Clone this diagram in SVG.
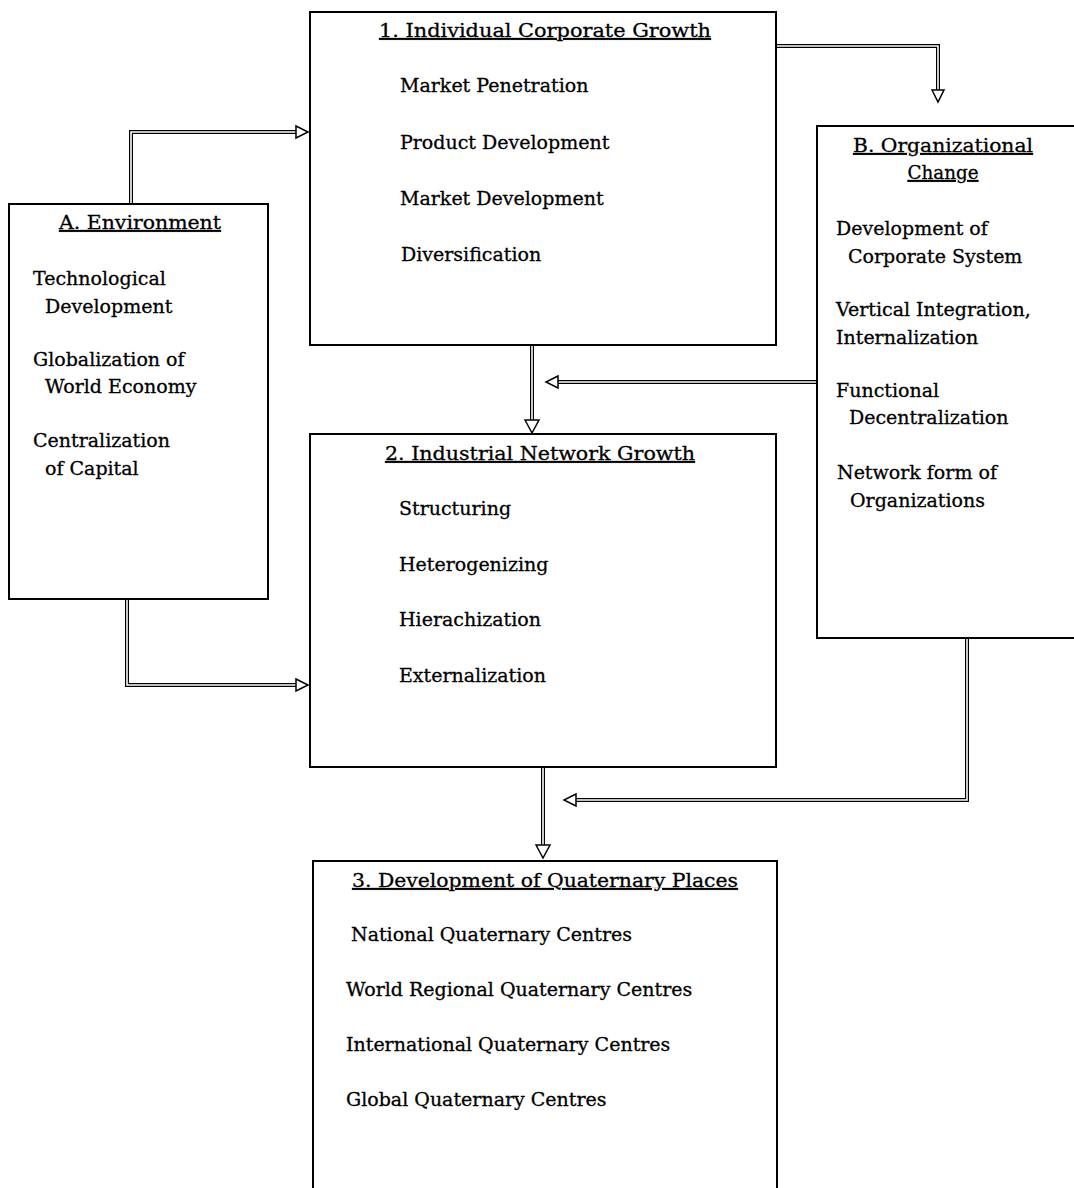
<svg xmlns="http://www.w3.org/2000/svg" width="1074" height="1188" viewBox="0 0 1074 1188">
<style>
.box{fill:none;stroke:#000;stroke-width:2}
.t{font-family:"DejaVu Serif","Liberation Serif",serif;font-size:19px;fill:#000;stroke:#000;stroke-width:0.3}
.h{font-family:"DejaVu Serif","Liberation Serif",serif;font-size:19px;fill:#000;stroke:#000;stroke-width:0.3;text-decoration:underline;text-anchor:middle}
.sh{fill:none;stroke:#000;stroke-width:4}
.sw{fill:none;stroke:#fff;stroke-width:1.6}
.hd{fill:#fff;stroke:#000;stroke-width:1.5;stroke-linejoin:miter}
</style>
<rect width="1074" height="1188" fill="#fff"/>
<g id="connectors">
<path class="sh" d="M131,204 V132 H296"/>
<path class="sw" d="M131,204 V132 H296"/>
<path class="hd" d="M296,126 L308,132 L296,138 Z"/>
<path class="sh" d="M777,46 H938 V90"/>
<path class="sw" d="M777,46 H938 V90"/>
<path class="hd" d="M932,90 L938,102 L944,90 Z"/>
<path class="sh" d="M532,345 V420"/>
<path class="sw" d="M532,345 V420"/>
<path class="hd" d="M525,420 L532,433 L539,420 Z"/>
<path class="sh" d="M816,382 H558"/>
<path class="sw" d="M816,382 H558"/>
<path class="hd" d="M558,376 L546,382 L558,388 Z"/>
<path class="sh" d="M127,599 V685 H296"/>
<path class="sw" d="M127,599 V685 H296"/>
<path class="hd" d="M296,679 L308,685 L296,691 Z"/>
<path class="sh" d="M543,767 V845"/>
<path class="sw" d="M543,767 V845"/>
<path class="hd" d="M536,845 L543,858 L550,845 Z"/>
<path class="sh" d="M967,638 V800 H576"/>
<path class="sw" d="M967,638 V800 H576"/>
<path class="hd" d="M576,794 L564,800 L576,806 Z"/>
</g>
<g id="node-1">
<rect class="box" x="310" y="12" width="466" height="333"/>
<text class="h" x="545" y="37" textLength="332" lengthAdjust="spacingAndGlyphs">1. Individual Corporate Growth</text>
<text class="t" x="400" y="92">Market Penetration</text>
<text class="t" x="400" y="149">Product Development</text>
<text class="t" x="400" y="205">Market Development</text>
<text class="t" x="401" y="261">Diversification</text>
</g>
<g id="node-A">
<rect class="box" x="9" y="204" width="259" height="395"/>
<text class="h" x="140" y="229" textLength="162" lengthAdjust="spacingAndGlyphs">A. Environment</text>
<text class="t" x="33" y="285">Technological</text>
<text class="t" x="45" y="313">Development</text>
<text class="t" x="33" y="366">Globalization of</text>
<text class="t" x="45" y="393">World Economy</text>
<text class="t" x="33" y="447">Centralization</text>
<text class="t" x="45" y="475">of Capital</text>
</g>
<g id="node-B">
<rect class="box" x="817" y="126" width="270" height="512"/>
<text class="h" x="943" y="152" textLength="180" lengthAdjust="spacingAndGlyphs">B. Organizational</text>
<text class="h" x="943" y="179" textLength="71" lengthAdjust="spacingAndGlyphs">Change</text>
<text class="t" x="836" y="235">Development of</text>
<text class="t" x="848" y="263">Corporate System</text>
<text class="t" x="836" y="316">Vertical Integration,</text>
<text class="t" x="836" y="344">Internalization</text>
<text class="t" x="836" y="397">Functional</text>
<text class="t" x="849" y="424">Decentralization</text>
<text class="t" x="837" y="479">Network form of</text>
<text class="t" x="850" y="507">Organizations</text>
</g>
<g id="node-2">
<rect class="box" x="310" y="434" width="466" height="333"/>
<text class="h" x="540" y="460" textLength="310" lengthAdjust="spacingAndGlyphs">2. Industrial Network Growth</text>
<text class="t" x="399" y="515">Structuring</text>
<text class="t" x="399" y="571">Heterogenizing</text>
<text class="t" x="399" y="626">Hierachization</text>
<text class="t" x="399" y="682">Externalization</text>
</g>
<g id="node-3">
<path class="box" d="M313,1192 V861 H777 V1192"/>
<text class="h" x="545" y="887" textLength="386" lengthAdjust="spacingAndGlyphs">3. Development of Quaternary Places</text>
<text class="t" x="351" y="941">National Quaternary Centres</text>
<text class="t" x="346" y="996">World Regional Quaternary Centres</text>
<text class="t" x="346" y="1051">International Quaternary Centres</text>
<text class="t" x="346" y="1106">Global Quaternary Centres</text>
</g>
</svg>
